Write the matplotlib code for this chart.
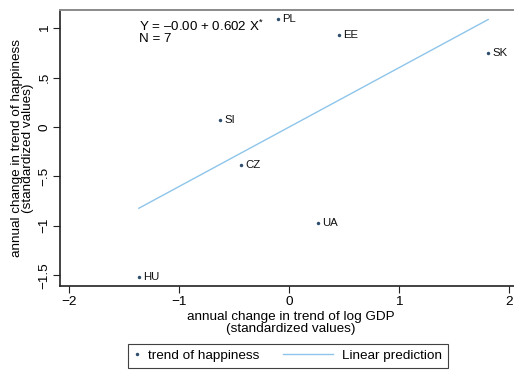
import matplotlib
matplotlib.use('Agg')
from matplotlib import pyplot as plt
from matplotlib.legend_handler import HandlerLine2D
import numpy as np

plt.rcParams['font.family'] = ['Liberation Sans', 'DejaVu Sans']
plt.rcParams['mathtext.fontset'] = 'custom'
plt.rcParams['mathtext.rm'] = 'Liberation Sans'
plt.rcParams['mathtext.default'] = 'regular'

# standardized annual changes by country
countries = ['PL', 'EE', 'SK', 'SI', 'CZ', 'UA', 'HU']
gdp_trend = [-0.10, 0.455, 1.81, -0.625, -0.434, 0.26, -1.366]
happiness_trend = [1.09, 0.93, 0.75, 0.074, -0.384, -0.967, -1.52]
intercept = 0.0
slope = 0.602

navy = '#2f4f6f'
lightblue = '#8ec5ea'


class LongLine(HandlerLine2D):
    # draw the line key wider than the shared handle box, growing to the left
    def get_xdata(self, legend, xdescent, ydescent, width, height, fontsize):
        x1 = width - xdescent
        x0 = x1 - 3.75 * fontsize
        return np.array([x0, x1]), np.array([(x0 + x1) / 2])


fig = plt.figure(figsize=(5.14, 3.70), dpi=100)
ax = fig.add_axes([0.1173, 0.227, 0.8827, 0.747])

x = np.array(gdp_trend)
y = np.array(happiness_trend)
pts, = ax.plot(x, y, 'o', color=navy, markersize=2.5, markeredgewidth=0,
               label='trend of happiness')
for name, xi, yi in zip(countries, x, y):
    ax.annotate(name, (xi, yi), xytext=(3, 0), textcoords='offset points',
                va='center', ha='left', fontsize=8.2, color='#111111')

xs = np.array([x.min(), x.max()])
fit, = ax.plot(xs, intercept + slope * xs, color=lightblue, lw=1.0,
               label='Linear prediction')

ax.text(0.1735, 0.968, 'Y = \u20130.00 + 0.602 X$^{*}$\nN = 7',
        transform=ax.transAxes, va='top', ha='left', fontsize=9.6,
        linespacing=0.92)

ax.set_xlim(-2.08, 2.045)
ax.set_ylim(-1.61, 1.19)
ax.set_xticks([-2, -1, 0, 1, 2])
ax.set_xticklabels(['\u22122', '\u22121', '0', '1', '2'])
ax.set_yticks([1, 0.5, 0, -0.5, -1, -1.5])
ax.set_yticklabels(['1', '.5', '0', '\u2212.5', '\u22121', '\u22121.5'],
                   rotation=90, va='center')
ax.tick_params(labelsize=9.7, length=5, width=0.8, color='#222222', pad=2)

ax.spines['right'].set_visible(False)
ax.spines['top'].set_color('#8a8a8a')
ax.spines['top'].set_linewidth(1.4)
for side in ['left', 'bottom']:
    ax.spines[side].set_color('#222222')
    ax.spines[side].set_linewidth(1.2)

ax.set_xlabel('annual change in trend of log GDP\n(standardized values)',
              fontsize=9.7, linespacing=0.98)
ax.xaxis.set_label_coords(0.508, -0.09)
ax.set_ylabel('annual change in trend of happiness\n(standardized values)',
              fontsize=9.7, linespacing=0.98, labelpad=3)

leg = fig.legend(handles=[pts, fit], loc='center', bbox_to_anchor=(0.56, 0.038),
                 ncol=2, fontsize=9.7, frameon=True, fancybox=False,
                 handlelength=0.45, handletextpad=0.65, columnspacing=5.0,
                 borderpad=0.45, borderaxespad=0,
                 handler_map={fit: LongLine()})
leg.get_frame().set_edgecolor('#111111')
leg.get_frame().set_linewidth(0.8)

fig.savefig('out.png', dpi=100)
